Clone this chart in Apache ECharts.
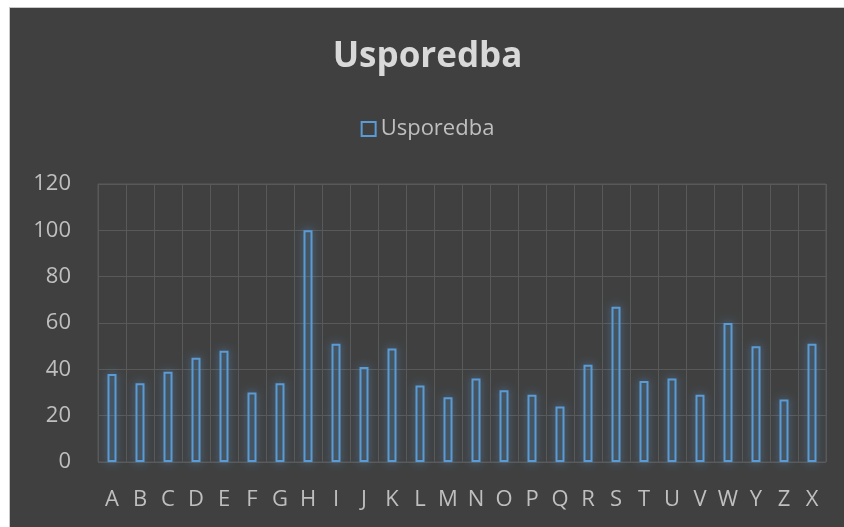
<!DOCTYPE html>
<html>
<head>
<meta charset="utf-8">
<script src="https://cdn.jsdelivr.net/npm/echarts@6/dist/echarts.min.js"></script>
<style>
  html, body { margin: 0; padding: 0; background: #ffffff; }
  .frame {
    position: absolute;
    left: 9px;
    top: 7px;
    width: 835px;
    height: 520px;
    background: #404040;
    border-left: 1px solid #c8c8c8;
    border-top: 1px solid #c8c8c8;
  }
  #chart { width: 835px; height: 520px; }
</style>
</head>
<body>
<div class="frame"><div id="chart"></div></div>
<script>
// kategorije (redoslijed kao na slici)
const categories = ['A', 'B', 'C', 'D', 'E', 'F', 'G', 'H', 'I', 'J', 'K', 'L', 'M',
  'N', 'O', 'P', 'Q', 'R', 'S', 'T', 'U', 'V', 'W', 'Y', 'Z', 'X']
const values = [38, 34, 39, 45, 48, 30, 34, 100, 51, 41, 49, 33, 28,
  36, 31, 29, 24, 42, 67, 35, 36, 29, 60, 50, 27, 51]
const seriesName = 'Usporedba'
const yTicks = [0, 20, 40, 60, 80, 100, 120]

const font = '"Open Sans", Lato, sans-serif'
const blue = '#5b9bd5'

const chart = echarts.init(document.getElementById('chart'))
chart.setOption({
  backgroundColor: '#404040',
  animation: false,
  title: {
    text: 'Usporedba',
    left: 'center',
    top: 27,
    textStyle: { color: '#d9d9d9', fontSize: 35, fontWeight: 'bold', fontFamily: font }
  },
  legend: {
    top: 105,
    left: 'center',
    icon: 'rect',
    itemWidth: 14,
    itemHeight: 14,
    itemGap: 5,
    itemStyle: { color: 'rgba(0,0,0,0)', borderColor: blue, borderWidth: 2 },
    textStyle: { color: '#bfbfbf', fontSize: 22, fontFamily: font },
    data: [seriesName]
  },
  grid: {
    left: 88,
    right: 19,
    top: 176,
    bottom: 66,
    show: true,
    borderColor: '#595959',
    borderWidth: 1
  },
  xAxis: {
    type: 'category',
    data: categories,
    axisLine: { show: false },
    axisTick: { show: false },
    splitLine: { show: true, lineStyle: { color: '#595959', width: 1 } },
    axisLabel: { color: '#bfbfbf', fontSize: 22, fontFamily: font, margin: 27, interval: 0 }
  },
  yAxis: {
    type: 'value',
    min: yTicks[0],
    max: yTicks[yTicks.length - 1],
    interval: 20,
    axisLine: { show: false },
    axisTick: { show: false },
    splitLine: { lineStyle: { color: '#595959', width: 1 } },
    axisLabel: { color: '#bfbfbf', fontSize: 22, fontFamily: font, margin: 27 }
  },
  series: [{
    name: seriesName,
    type: 'bar',
    data: values,
    barWidth: 9,
    itemStyle: {
      color: 'rgba(0,0,0,0)',
      borderColor: blue,
      borderWidth: 2,
      shadowBlur: 10,
      shadowColor: 'rgba(91,155,213,0.85)'
    }
  }]
})
</script>
</body>
</html>
